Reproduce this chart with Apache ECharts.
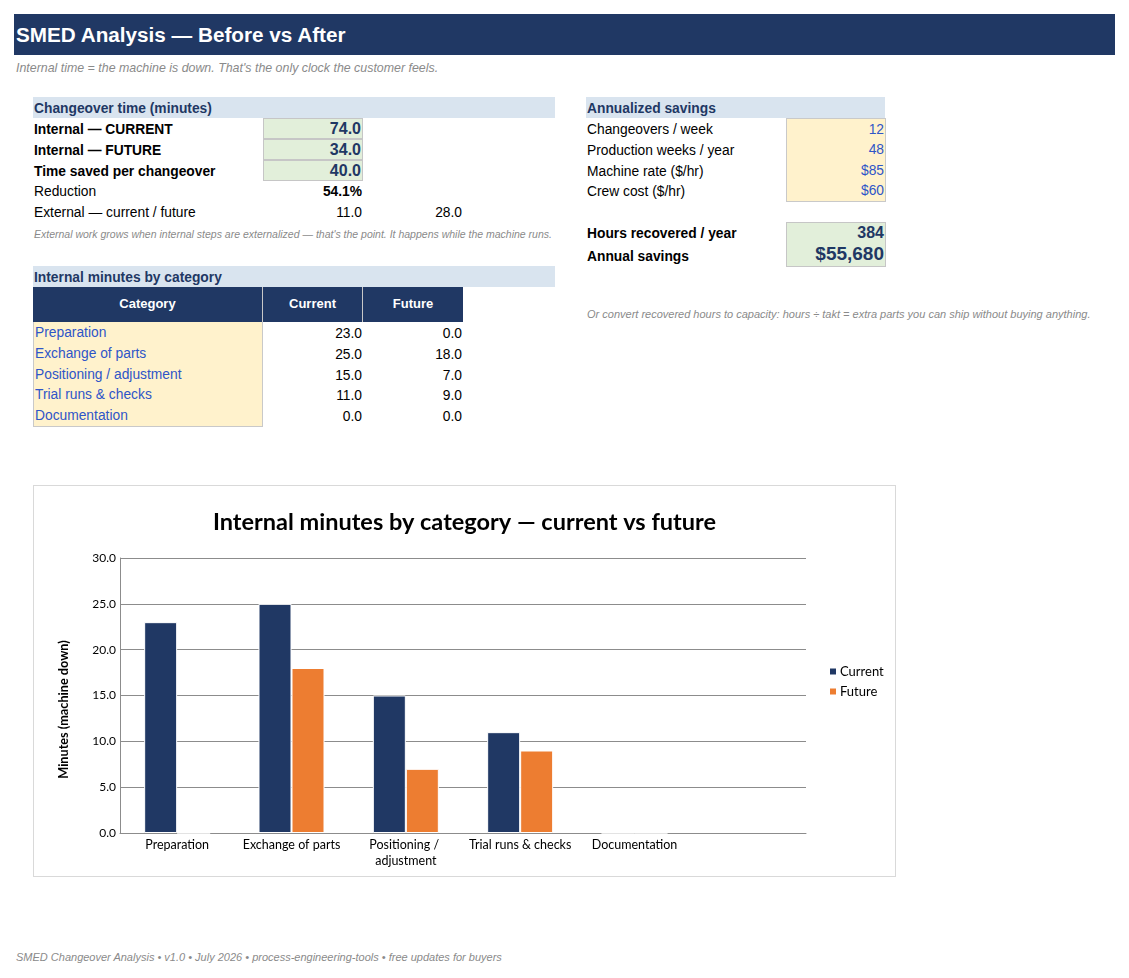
<!DOCTYPE html>
<html>
<head>
<meta charset="utf-8">
<title>SMED Analysis</title>
<script src="https://cdn.jsdelivr.net/npm/echarts@6/dist/echarts.min.js"></script>
<style>
  body { margin: 0; background: #fff; font-family: "Liberation Sans", Arial, sans-serif; }
  #page { position: relative; width: 1129px; height: 978px; overflow: hidden; }
  .c { position: absolute; box-sizing: border-box; white-space: nowrap; font-size: 13.8px; color: #000; padding: 0 1px; }
  .r { text-align: right; }
  .b { font-weight: bold; }
  .band { background: #d9e4ef; color: #1f3864; font-weight: bold; }
  .green { background: #e2efda; border: 1px solid #c6c6c6; color: #1f3864; font-weight: bold; font-size: 16px; }
  .yellow { background: #fff2cc; border: 1px solid #c9c9c9; color: #2e55c8; }
  .thead { background: #203864; color: #fff; font-weight: bold; text-align: center; border-right: 1px solid #c8c8c8; font-size: 13px; }
  .note { font-style: italic; color: #8a8a8a; font-size: 10.5px; }
  #chart { position: absolute; left: 33px; top: 485px; width: 863px; height: 392px; border: 1px solid #d9d9d9; box-sizing: border-box; }
</style>
</head>
<body>
<div id="page">
  <div class="c" style="left:14px;top:14px;width:1101px;height:41px;line-height:41px;background:#203864;color:#fff;font-weight:bold;font-size:20.7px;padding:0 2px;">SMED Analysis — Before vs After</div>
  <div class="c note" style="left:14px;top:60px;height:17px;line-height:17px;font-size:12.4px;padding:0 2px;">Internal time = the machine is down. That's the only clock the customer feels.</div>
  <div id="chart"></div>
</div>
<script type="text/javascript">
  // chart / table data
  var categories = ['Preparation', 'Exchange of parts', 'Positioning / adjustment', 'Trial runs & checks', 'Documentation'];
  var current = [23, 25, 15, 11, 0];
  var future = [0, 18, 7, 9, 0];
  var external = [11, 28];
  var yTicks = { min: 0, max: 30, interval: 5 };

  // annualized inputs
  var changeoversPerWeek = 12;
  var weeksPerYear = 48;
  var machineRate = 85;
  var crewCost = 60;

  var page = document.getElementById('page');
  function cell(x, y, w, h, text, cls, css) {
    var d = document.createElement('div');
    d.className = 'c ' + (cls || '');
    d.style.left = x + 'px';
    d.style.top = y + 'px';
    d.style.width = w + 'px';
    d.style.height = h + 'px';
    d.style.lineHeight = (h + 3) + 'px';
    if (css) d.style.cssText += css;
    d.textContent = text;
    page.appendChild(d);
    return d;
  }

  var sumCur = current.reduce(function (a, b) { return a + b; }, 0);
  var sumFut = future.reduce(function (a, b) { return a + b; }, 0);
  var saved = sumCur - sumFut;
  var hours = saved * changeoversPerWeek * weeksPerYear / 60;
  var savings = hours * (machineRate + crewCost);

  // left block
  var rh = 20.75;
  cell(33, 97, 522, 21, 'Changeover time (minutes)', 'band');
  var y0 = 118;
  cell(33, y0, 230, rh, 'Internal — CURRENT', 'b');
  cell(33, y0 + rh, 230, rh, 'Internal — FUTURE', 'b');
  cell(33, y0 + rh * 2, 230, rh, 'Time saved per changeover', 'b');
  cell(263, y0, 100, rh + 0.5, sumCur.toFixed(1), 'green r', 'line-height:20px;');
  cell(263, y0 + rh, 100, rh + 0.5, sumFut.toFixed(1), 'green r', 'line-height:20px;');
  cell(263, y0 + rh * 2, 100, rh + 0.5, saved.toFixed(1), 'green r', 'line-height:20px;');
  cell(33, y0 + rh * 3, 230, rh, 'Reduction');
  cell(263, y0 + rh * 3, 100, rh, (saved / sumCur * 100).toFixed(1) + '%', 'b r');
  cell(33, y0 + rh * 4, 230, rh, 'External — current / future');
  cell(263, y0 + rh * 4, 100, rh, external[0].toFixed(1), 'r');
  cell(363, y0 + rh * 4, 100, rh, external[1].toFixed(1), 'r');
  cell(33, 224, 530, 20, 'External work grows when internal steps are externalized — that\'s the point. It happens while the machine runs.', 'note', 'line-height:20px;');

  cell(33, 266, 522, 21, 'Internal minutes by category', 'band');
  cell(33, 287, 230, 35, 'Category', 'thead', 'line-height:34px;');
  cell(263, 287, 100, 35, 'Current', 'thead', 'line-height:34px;');
  cell(363, 287, 100, 35, 'Future', 'thead', 'border-right:none;line-height:34px;');
  for (var i = 0; i < categories.length; i++) {
    var yy = 322 + i * rh;
    cell(33, yy, 230, rh + 1, categories[i], 'yellow', 'border-top:none;line-height:22px;');
    cell(263, yy, 100, rh, current[i].toFixed(1), 'r');
    cell(363, yy, 100, rh, future[i].toFixed(1), 'r');
  }

  // right block
  cell(586, 97, 299, 21, 'Annualized savings', 'band');
  var rlabels = ['Changeovers / week', 'Production weeks / year', 'Machine rate ($/hr)', 'Crew cost ($/hr)'];
  var rvals = [String(changeoversPerWeek), String(weeksPerYear), '$' + machineRate, '$' + crewCost];
  for (var j = 0; j < rlabels.length; j++) {
    cell(586, y0 + j * rh, 200, rh, rlabels[j]);
    cell(786, y0 + j * rh, 100, rh + 1, rvals[j], 'yellow r', (j > 0 ? 'border-top:none;' : '') + 'line-height:22px;');
  }
  cell(586, 222, 200, 21, 'Hours recovered / year', 'b');
  cell(786, 222, 100, 22, String(hours), 'green r', 'line-height:20px;');
  cell(586, 243, 200, 24, 'Annual savings', 'b');
  cell(786, 243, 100, 24, '$' + savings.toLocaleString('en-US'), 'green r', 'border-top:none;font-size:19px;line-height:21px;');
  cell(586, 305, 520, 18, 'Or convert recovered hours to capacity: hours ÷ takt = extra parts you can ship without buying anything.', 'note', 'font-size:11px;line-height:18px;');

  cell(14, 949, 600, 16, 'SMED Changeover Analysis • v1.0 • July 2026 • process-engineering-tools • free updates for buyers', 'note', 'font-size:11px;line-height:16px;padding:0 2px;');

  // chart: the source range has one spare empty row, so the axis gets a blank slot
  var chartCats = categories.concat(['']);
  var chart = echarts.init(document.getElementById('chart'));
  chart.setOption({
    animation: false,
    textStyle: { fontFamily: 'Lato' },
    title: {
      text: 'Internal minutes by category — current vs future',
      left: 'center', top: 19,
      textStyle: { fontFamily: 'Lato', fontWeight: 'bold', fontSize: 23.5, color: '#000' }
    },
    legend: {
      orient: 'vertical', left: 789, top: 174,
      itemWidth: 8, itemHeight: 8, itemGap: 7, icon: 'rect',
      textStyle: { fontFamily: 'Lato', fontSize: 13, color: '#000', padding: [0, 0, 0, -2] },
      data: ['Current', 'Future']
    },
    grid: { left: 86, right: 89, top: 72, bottom: 43, containLabel: false },
    xAxis: {
      type: 'category', data: chartCats,
      axisLine: { lineStyle: { color: '#8c8c8c' } },
      axisTick: { show: false },
      axisLabel: { color: '#000', fontSize: 12.5, margin: 4, interval: 0, width: 112, overflow: 'break', lineHeight: 16 }
    },
    yAxis: {
      type: 'value', min: yTicks.min, max: yTicks.max, interval: yTicks.interval,
      name: 'Minutes (machine down)', nameLocation: 'middle', nameGap: 50,
      nameTextStyle: { fontFamily: 'Lato', fontWeight: 'bold', fontSize: 12.7, color: '#000', padding: [0, 28, 0, 0] },
      axisLine: { show: true, lineStyle: { color: '#8c8c8c' } },
      axisTick: { show: false },
      axisLabel: { color: '#000', fontSize: 12, margin: 4, formatter: function (v) { return v.toFixed(1); } },
      splitLine: { lineStyle: { color: '#8c8c8c' } }
    },
    series: [
      { name: 'Current', type: 'bar', data: current, barWidth: 33, barGap: '0%',
        itemStyle: { color: '#203864', borderColor: '#fff', borderWidth: 1 } },
      { name: 'Future', type: 'bar', data: future, barWidth: 33,
        itemStyle: { color: '#ed7d31', borderColor: '#fff', borderWidth: 1 } }
    ]
  });
</script>
</body>
</html>
